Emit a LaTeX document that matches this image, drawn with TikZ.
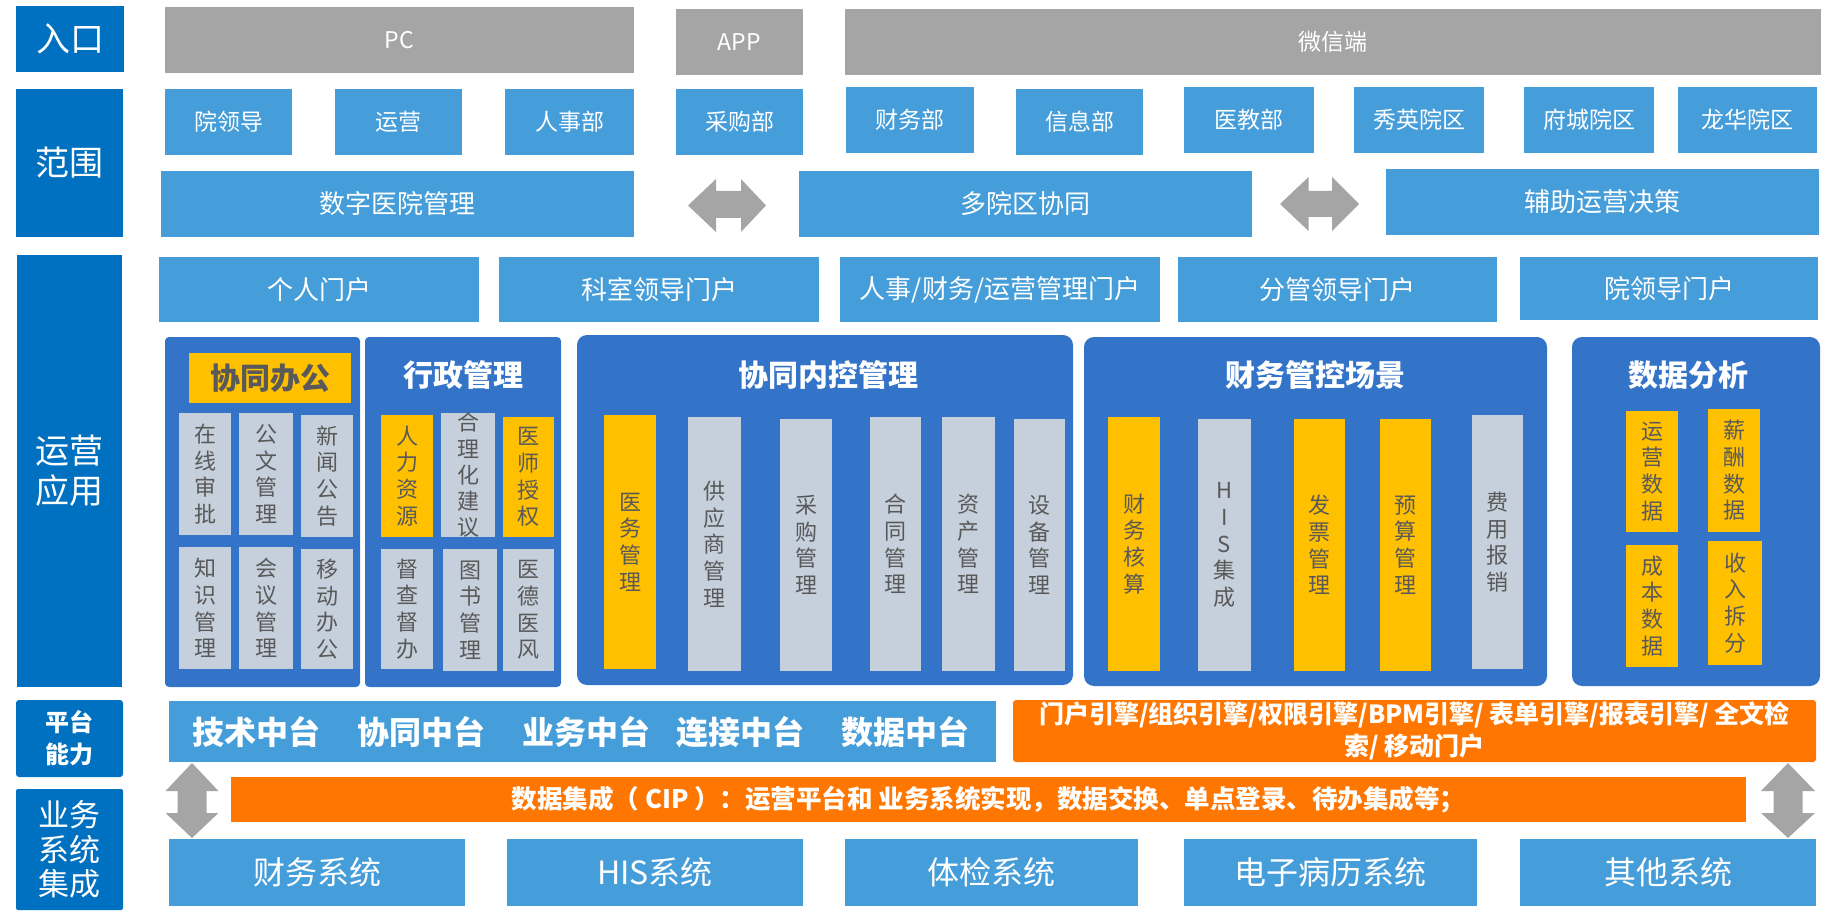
\documentclass[tikz,border=0pt]{standalone}
\usepackage{fontspec}
\setmainfont{Noto Sans CJK SC}
\definecolor{labblue}{RGB}{0,112,192}
\definecolor{lblue}{RGB}{69,157,217}
\definecolor{pblue}{RGB}{52,116,200}
\definecolor{gbar}{RGB}{165,165,165}
\definecolor{ylw}{RGB}{255,192,0}
\definecolor{gbox}{RGB}{197,208,220}
\definecolor{dtext}{RGB}{89,89,89}
\definecolor{orng}{RGB}{255,118,0}
\newcommand\fs[2]{\fontsize{#1}{#2}\selectfont}
\newcommand\rb[7]{\node[#2, minimum width={(#5-#3)*1pt}, minimum height={(#6-#4)*1pt}] (#1) at ({(#3+#5)/2},{(#4+#6)/2}) {#7};}
\tikzset{
  base/.style={inner sep=0pt, outer sep=0pt, align=center, text=white},
  lab/.style={base, fill=labblue, font=\fs{34}{40}},
  gry/.style={base, fill=gbar, font=\fs{23}{26}},
  lbx/.style={base, fill=lblue, font=\fs{23}{26}},
  mbx/.style={base, fill=lblue, font=\fs{26}{30}},
  sysbx/.style={base, fill=lblue, font=\fs{32}{36}},
  panel/.style={base, fill=pblue, rounded corners=#1},
  panel/.default=10pt,
  vbox/.style={base, fill=gbox, text=dtext, font=\fs{22}{26.7}},
  ybox/.style={base, fill=ylw, text=dtext, font=\fs{22}{26.7}},
  ptitle/.style={inner sep=0pt, text=white, font=\bfseries\fs{30}{34}},
  pltxt/.style={inner sep=0pt, text=white, font=\bfseries\fs{32}{36}},
  obx/.style={base, fill=orng, font=\bfseries\fs{25.5}{32}},
  dbl/.style={fill=gbar},
}
\begin{document}
\begin{tikzpicture}[x=1pt,y=-1pt]
\useasboundingbox (0,0) rectangle (1831,917);
% left labels
\rb{L1}{lab}{16}{6}{124}{72}{入口}
\rb{L2}{lab}{16}{89}{123}{237}{范围}
\rb{L3}{lab}{17}{255}{122}{687}{运营\\应用}
\rb{L4}{lab, rounded corners=3pt, font=\bfseries\fs{24}{32}}{16}{700}{123}{777}{平台\\能力}
\rb{L5}{lab, rounded corners=2pt, font=\fs{31}{34.5}}{16}{789}{123}{910}{业务\\系统\\集成}
% row 1
\rb{pc}{gry}{165}{7}{634}{73}{PC}
\rb{app}{gry}{676}{9}{803}{75}{APP}
\rb{wx}{gry}{845}{9}{1821}{75}{微信端}
% row 2
\rb{s1}{lbx}{165}{89}{292}{155}{院领导}
\rb{s2}{lbx}{335}{89}{462}{155}{运营}
\rb{s3}{lbx}{505}{89}{634}{155}{人事部}
\rb{s4}{lbx}{676}{89}{803}{155}{采购部}
\rb{s5}{lbx}{846}{87}{974}{153}{财务部}
\rb{s6}{lbx}{1016}{89}{1143}{155}{信息部}
\rb{s7}{lbx}{1184}{87}{1314}{153}{医教部}
\rb{s8}{lbx}{1354}{87}{1484}{153}{秀英院区}
\rb{s9}{lbx}{1524}{87}{1654}{153}{府城院区}
\rb{s10}{lbx}{1678}{87}{1817}{153}{龙华院区}
% row 3
\rb{m1}{mbx}{161}{171}{634}{237}{数字医院管理}
\rb{m2}{mbx}{799}{171}{1252}{237}{多院区协同}
\rb{m3}{mbx}{1386}{169}{1819}{235}{辅助运营决策}
\fill[dbl] (688,205.5) -- (716,179) -- (716,191) -- (741,191) -- (741,179) -- (766,205.5) -- (741,232) -- (741,218) -- (716,218) -- (716,232) -- cycle;
\fill[dbl] (1280,204) -- (1308.5,177) -- (1308.5,191) -- (1332,191) -- (1332,177) -- (1359,204) -- (1332,231) -- (1332,217) -- (1308.5,217) -- (1308.5,231) -- cycle;
% portals
\rb{po1}{mbx}{159}{257}{479}{322}{个人门户}
\rb{po2}{mbx}{499}{257}{819}{322}{科室领导门户}
\rb{po3}{mbx}{840}{257}{1160}{322}{人事/财务/运营管理门户}
\rb{po4}{mbx}{1178}{257}{1497}{322}{分管领导门户}
\rb{po5}{mbx}{1520}{257}{1818}{320}{院领导门户}
% panels
\rb{P1}{panel=4pt}{165}{337}{360}{687}{}
\rb{P2}{panel=4pt}{365}{337}{561}{687}{}
\rb{P3}{panel}{577}{335}{1073}{685}{}
\rb{P4}{panel}{1084}{337}{1547}{686}{}
\rb{P5}{panel}{1572}{337}{1820}{686}{}
% P1
\rb{t1}{base, fill=ylw, text=dtext, font=\bfseries\fs{30}{34}}{189}{353}{351}{403}{协同办公}
\rb{a1}{vbox}{179}{413}{231}{535}{在\\线\\审\\批}
\rb{a2}{vbox}{239}{413}{293}{535}{公\\文\\管\\理}
\rb{a3}{vbox}{301}{415}{353}{537}{新\\闻\\公\\告}
\rb{a4}{vbox}{179}{547}{231}{669}{知\\识\\管\\理}
\rb{a5}{vbox}{239}{547}{293}{669}{会\\议\\管\\理}
\rb{a6}{vbox}{301}{549}{353}{669}{移\\动\\办\\公}
% P2
\node[ptitle] (t2) at (463,375) {行政管理};
\rb{b1}{ybox}{381}{415}{433}{537}{人\\力\\资\\源}
\rb{b2}{vbox, label={[base, text=dtext, font=\fs{22}{26.2}]center:合\\理\\化\\建\\议}}{441}{413}{495}{537}{}
\rb{b3}{ybox}{503}{417}{554}{537}{医\\师\\授\\权}
\rb{b4}{vbox}{381}{549}{433}{669}{督\\查\\督\\办}
\rb{b5}{vbox}{443}{549}{497}{671}{图\\书\\管\\理}
\rb{b6}{vbox}{503}{549}{554}{671}{医\\德\\医\\风}
% P3
\node[ptitle] (t3) at (828,375) {协同内控管理};
\rb{c1}{ybox}{604}{415}{656}{669}{医\\务\\管\\理}
\rb{c2}{vbox}{688}{417}{741}{671}{供\\应\\商\\管\\理}
\rb{c3}{vbox}{780}{419}{832}{671}{采\\购\\管\\理}
\rb{c4}{vbox}{870}{417}{921}{671}{合\\同\\管\\理}
\rb{c5}{vbox}{942}{417}{995}{671}{资\\产\\管\\理}
\rb{c6}{vbox}{1014}{419}{1065}{671}{设\\备\\管\\理}
% P4
\node[ptitle] (t4) at (1315,375) {财务管控场景};
\rb{d1}{ybox}{1108}{417}{1160}{671}{财\\务\\核\\算}
\rb{d2}{vbox}{1198}{419}{1251}{671}{H\\I\\S\\集\\成}
\rb{d3}{ybox}{1294}{419}{1345}{671}{发\\票\\管\\理}
\rb{d4}{ybox}{1380}{419}{1431}{671}{预\\算\\管\\理}
\rb{d5}{vbox}{1472}{415}{1523}{669}{费\\用\\报\\销}
% P5
\node[ptitle] (t5) at (1688,375) {数据分析};
\rb{e1}{ybox}{1626}{411}{1678}{532}{运\\营\\数\\据}
\rb{e2}{ybox}{1708}{409}{1760}{532}{薪\\酬\\数\\据}
\rb{e3}{ybox}{1626}{545}{1678}{667}{成\\本\\数\\据}
\rb{e4}{ybox}{1708}{541}{1762}{665}{收\\入\\拆\\分}
% platform
\rb{plat}{base, fill=lblue}{169}{701}{996}{762}{}
\node[pltxt] (pt1) at (256,732) {技术中台};
\node[pltxt] (pt2) at (421,732) {协同中台};
\node[pltxt] (pt3) at (586,732) {业务中台};
\node[pltxt] (pt4) at (740,732) {连接中台};
\node[pltxt] (pt5) at (905,732) {数据中台};
\rb{eng}{obx, rounded corners=3pt, font=\bfseries\fs{25}{32}}{1013}{700}{1816}{762}{门户引擎/组织引擎/权限引擎/BPM引擎/ 表单引擎/报表引擎/ 全文检\\索/ 移动门户}
\rb{cip}{obx}{231}{777}{1746}{822}{数据集成（ CIP ）：运营平台和 业务系统实现，数据交换、单点登录、待办集成等；}
\fill[dbl] (192,763) -- (218.5,791) -- (206.5,791) -- (206.5,813) -- (218.5,813) -- (192,838) -- (165.5,813) -- (177.5,813) -- (177.5,791) -- (165.5,791) -- cycle;
\fill[dbl] (1788,763) -- (1815,791) -- (1802.5,791) -- (1802.5,813) -- (1815,813) -- (1788,838) -- (1761,813) -- (1773.5,813) -- (1773.5,791) -- (1761,791) -- cycle;
% systems
\rb{y1}{sysbx}{169}{839}{465}{906}{财务系统}
\rb{y2}{sysbx}{507}{839}{803}{906}{HIS系统}
\rb{y3}{sysbx}{845}{839}{1138}{906}{体检系统}
\rb{y4}{sysbx}{1184}{839}{1477}{906}{电子病历系统}
\rb{y5}{sysbx}{1520}{839}{1816}{906}{其他系统}
\end{tikzpicture}
\end{document}
